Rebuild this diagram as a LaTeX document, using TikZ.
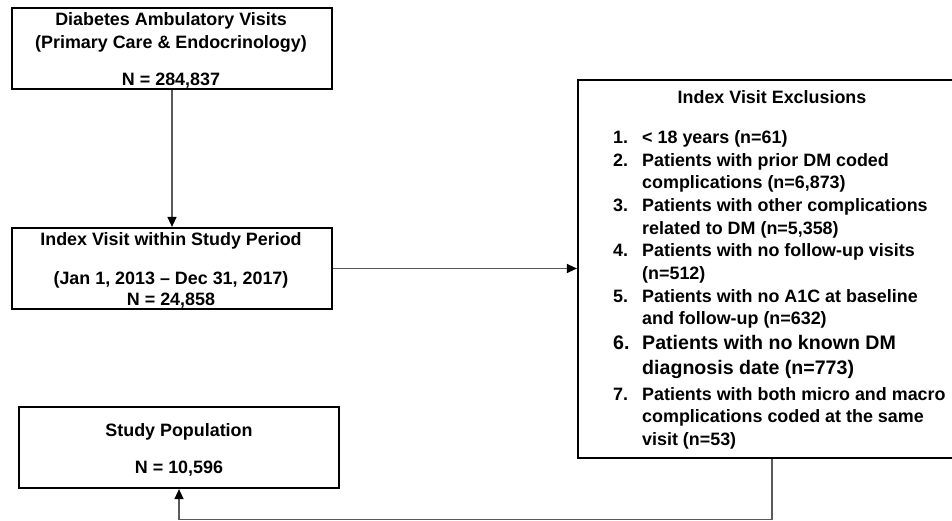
\documentclass[tikz,border=0pt]{standalone}
\usepackage{fontspec}
\setmainfont{Liberation Sans}
\usetikzlibrary{arrows.meta}
\definecolor{conncol}{HTML}{5A5A5A}
\tikzset{
  boxst/.style={draw=black, line width=2.2pt, fill=white, inner sep=0pt},
  conn/.style={draw=conncol, line width=1.4pt},
  arr/.style={conn, -{Triangle[length=10pt,width=9pt,color=black]}},
  txt/.style={inner sep=0pt, font=\bfseries\fontsize{17.9}{21}\selectfont},
  bigtxt/.style={inner sep=0pt, font=\bfseries\fontsize{19.6}{23}\selectfont},
}
\begin{document}
\begin{tikzpicture}[x=1pt,y=-1pt]
\useasboundingbox (0,0) rectangle (952,521);
\begin{scope}
\clip (0,0) rectangle (952,521);
% boxes
\node[boxst, minimum width=320pt, minimum height=81pt] (b1) at (172,48.5) {};
\node[boxst, minimum width=320pt, minimum height=81pt] (b2) at (172,268.5) {};
\node[boxst, minimum width=388pt, minimum height=378pt] (b3) at (772,269) {};
\node[boxst, minimum width=320pt, minimum height=81pt] (b4) at (179,447.5) {};
% connectors
\draw[arr] (b1.south) -- (b2.north);
\draw[arr] (b2.east) -- (b2.east -| b3.west);
\coordinate (bot) at (772,519.5);
\draw[arr] (b3.south) -- (bot) -| (b4.south);
\end{scope}
% box 1 text
\node[txt, anchor=base] (t11) at (171,26) {Diabetes Ambulatory Visits};
\node[txt, anchor=base] (t12) at (171,49) {(Primary Care \& Endocrinology)};
\node[txt, anchor=base] (t13) at (171,86) {N = 284,837};
% box 2 text
\node[txt, anchor=base] (t21) at (171,245) {Index Visit within Study Period};
\node[txt, anchor=base] (t22) at (171,284) {(Jan 1, 2013 – Dec 31, 2017)};
\node[txt, anchor=base] (t23) at (171,305) {N = 24,858};
% box 4 text
\node[txt, anchor=base] (t41) at (179,436) {Study Population};
\node[txt, anchor=base] (t42) at (179,473) {N = 10,596};
% box 3 text
\node[txt, anchor=base] (t30) at (772,104) {Index Visit Exclusions};
\node[txt, anchor=base west] (n1) at (613,144) {1.};
\node[txt, anchor=base west] (e1) at (642,144) {< 18 years (n=61)};
\node[txt, anchor=base west] (n2) at (613,166.5) {2.};
\node[txt, anchor=base west] (e2a) at (642,166.5) {Patients with prior DM coded};
\node[txt, anchor=base west] (e2b) at (642,189) {complications (n=6,873)};
\node[txt, anchor=base west] (n3) at (613,211.5) {3.};
\node[txt, anchor=base west] (e3a) at (642,211.5) {Patients with other complications};
\node[txt, anchor=base west] (e3b) at (642,234) {related to DM (n=5,358)};
\node[txt, anchor=base west] (n4) at (613,256.5) {4.};
\node[txt, anchor=base west] (e4a) at (642,256.5) {Patients with no follow-up visits};
\node[txt, anchor=base west] (e4b) at (642,279) {(n=512)};
\node[txt, anchor=base west] (n5) at (613,302) {5.};
\node[txt, anchor=base west] (e5a) at (642,302) {Patients with no A1C at baseline};
\node[txt, anchor=base west] (e5b) at (642,324.5) {and follow-up (n=632)};
\node[bigtxt, anchor=base west] (n6) at (613,349.5) {6.};
\node[bigtxt, anchor=base west] (e6a) at (642,349.5) {Patients with no known DM};
\node[bigtxt, anchor=base west] (e6b) at (642,374.5) {diagnosis date (n=773)};
\node[txt, anchor=base west] (n7) at (613,400) {7.};
\node[txt, anchor=base west] (e7a) at (642,400) {Patients with both micro and macro};
\node[txt, anchor=base west] (e7b) at (642,422.5) {complications coded at the same};
\node[txt, anchor=base west] (e7c) at (642,445) {visit (n=53)};
\end{tikzpicture}
\end{document}
